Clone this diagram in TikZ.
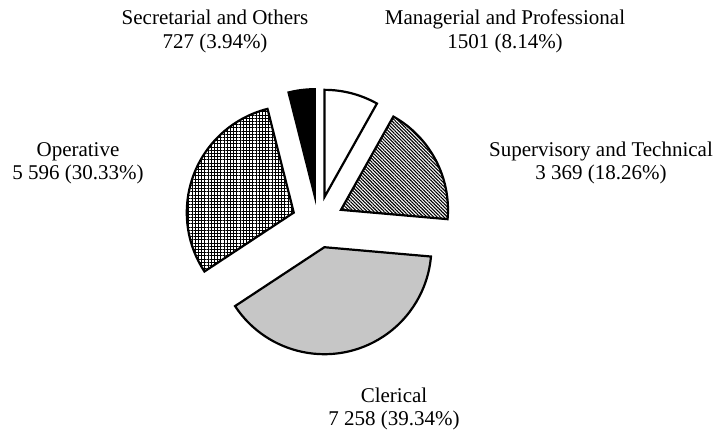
\documentclass[tikz,border=0pt]{standalone}
\usepackage{fontspec}
\setmainfont{Liberation Serif}
\usetikzlibrary{patterns,patterns.meta,calc}
\begin{document}
\begin{tikzpicture}[x=1pt,y=1pt,
  slice/.style={draw=black,line width=2.2pt,line join=miter},
  lbl/.style={anchor=base,inner sep=0pt,font=\fontsize{21}{24}\selectfont}]
\useasboundingbox (0,0) rectangle (716,-435);
\coordinate (C) at (318,-222);
\def\R{107}
\def\D{26}
% Managerial
\draw[slice,fill=white] ($(C)+(75.35:\D)$) coordinate (am) -- ++(60.7:\R) arc[start angle=60.7,end angle=90,radius=\R] -- cycle;
% Supervisory
\draw[slice,pattern={Lines[angle=-45,distance=2.4pt,line width=1.1pt]}] ($(C)+(27.85:\D)$) coordinate (as) -- ++(-5:\R) arc[start angle=-5,end angle=60.7,radius=\R] -- cycle;
% Clerical
\draw[slice,fill=gray!45] ($(C)+(-75.8:\D)$) coordinate (ac) -- ++(-146.6:\R) arc[start angle=-146.6,end angle=-5,radius=\R] -- cycle;
% Operative
\draw[slice,pattern={Hatch[angle=0,distance=3.2pt,line width=0.9pt]}] ($(C)+(158.8:\D)$) coordinate (ao) -- ++(104.2:\R) arc[start angle=104.2,end angle=213.4,radius=\R] -- cycle;
% Secretarial
\draw[slice,fill=black] ($(C)+(97.1:\D)$) coordinate (ax) -- ++(90:\R) arc[start angle=90,end angle=104.2,radius=\R] -- cycle;
% labels
\node[lbl] (sec1) at (215,-25) {Secretarial and Others};
\node[lbl] (sec2) at (215,-49) {727 (3.94\%)};
\node[lbl] (man1) at (505,-25) {Managerial and Professional};
\node[lbl] (man2) at (505,-49) {1501 (8.14\%)};
\node[lbl] (sup1) at (601,-157) {Supervisory and Technical};
\node[lbl] (sup2) at (601,-180) {3 369 (18.26\%)};
\node[lbl] (op1) at (78,-157) {Operative};
\node[lbl] (op2) at (78,-180) {5 596 (30.33\%)};
\node[lbl] (cl1) at (394,-403) {Clerical};
\node[lbl] (cl2) at (394,-426) {7 258 (39.34\%)};
\end{tikzpicture}
\end{document}
